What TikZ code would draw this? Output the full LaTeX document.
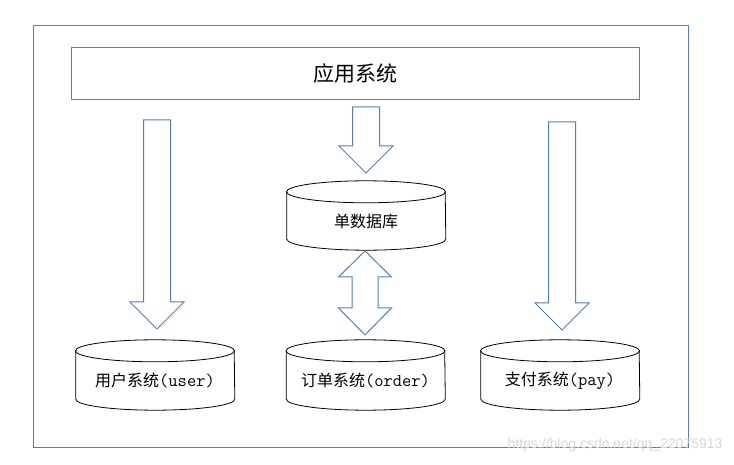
\documentclass[tikz,border=0pt]{standalone}
\usepackage{fontspec}
\setmainfont{Noto Sans CJK SC}
\setsansfont{Liberation Sans}
\usetikzlibrary{calc}
\definecolor{boxblue}{RGB}{84,128,180}
\definecolor{markgray}{RGB}{215,215,215}
\newcommand{\asc}[1]{{\ttfamily\fontsize{18}{19}\selectfont #1}}
\tikzset{
  frame/.style={draw=boxblue, line width=1pt},
  dbnode/.style={minimum width=158pt, inner sep=0pt, font=\fontsize{16}{19}\selectfont},
  dbline/.style={draw=black, line width=0.8pt},
  fatdown/.style={draw=boxblue, line width=1pt, fill=white,
    to path={($(\tikztostart)+(-13.5,0)$) -- ($(\tikztotarget)+(-13.5,27)$)
      -- ($(\tikztotarget)+(-27,27)$) -- (\tikztotarget)
      -- ($(\tikztotarget)+(27,27)$) -- ($(\tikztotarget)+(13.5,27)$)
      -- ($(\tikztostart)+(13.5,0)$) -- cycle}},
  fatboth/.style={draw=boxblue, line width=1pt, fill=white,
    to path={(\tikztostart) -- ($(\tikztostart)+(26.5,-26)$) -- ($(\tikztostart)+(13,-26)$)
      -- ($(\tikztotarget)+(13,27)$) -- ($(\tikztotarget)+(26.5,27)$) -- (\tikztotarget)
      -- ($(\tikztotarget)+(-26.5,27)$) -- ($(\tikztotarget)+(-13,27)$)
      -- ($(\tikztostart)+(-13,-26)$) -- ($(\tikztostart)+(-26.5,-26)$) -- cycle}}
}
% cylinder outline round a body node
\newcommand{\dbshape}[1]{%
  \draw[dbline] (#1.north west) -- ($(#1.south west)+(0,11)$)
    arc[start angle=180, end angle=360, x radius=79.5pt, y radius=11pt]
    -- (#1.north east);
  \draw[dbline] (#1.north) ellipse[x radius=79.5pt, y radius=11pt];}
\begin{document}
\begin{tikzpicture}[x=1pt, y=1pt]
  \useasboundingbox (0,0) rectangle (734,464);
  \draw[frame] (33,17) rectangle (688,438);
  \node[frame, minimum width=568pt, minimum height=52pt, font=\fontsize{21}{24}\selectfont]
    (app) at (355,390) {应用系统};

  \node[dbnode, minimum height=58pt] (single) at (366,243) {单数据库};
  \node[dbnode, minimum height=59pt] (user) at (155,83.5) {用户系统\asc{(user)}};
  \node[dbnode, minimum height=59pt] (order) at (365.5,83.5) {订单系统\asc{(order)}};
  \node[dbnode, minimum height=59pt] (pay) at (560,83.5) {支付系统\asc{(pay)}};
  \dbshape{single}
  \dbshape{user}
  \dbshape{order}
  \dbshape{pay}

  \coordinate (uTop) at (157,344);
  \coordinate (uTip) at (157,135);
  \coordinate (sTop) at (366,357);
  \coordinate (sTip) at (366,291);
  \coordinate (oTop) at (365,213);
  \coordinate (oTip) at (365,129);
  \coordinate (pTop) at (562,342);
  \coordinate (pTip) at (562,134);
  \begin{scope}
    \draw[fatdown] (uTop) to (uTip);
    \draw[fatdown] (sTop) to (sTip);
    \draw[fatboth] (oTop) to (oTip);
    \draw[fatdown] (pTop) to (pTip);
  \end{scope}

  \node[text=markgray, font=\sffamily\fontsize{14}{16}\selectfont, anchor=east]
    (mark) at (726,19) {https://blog.csdn.net/qq\_22075913};
\end{tikzpicture}
\end{document}
